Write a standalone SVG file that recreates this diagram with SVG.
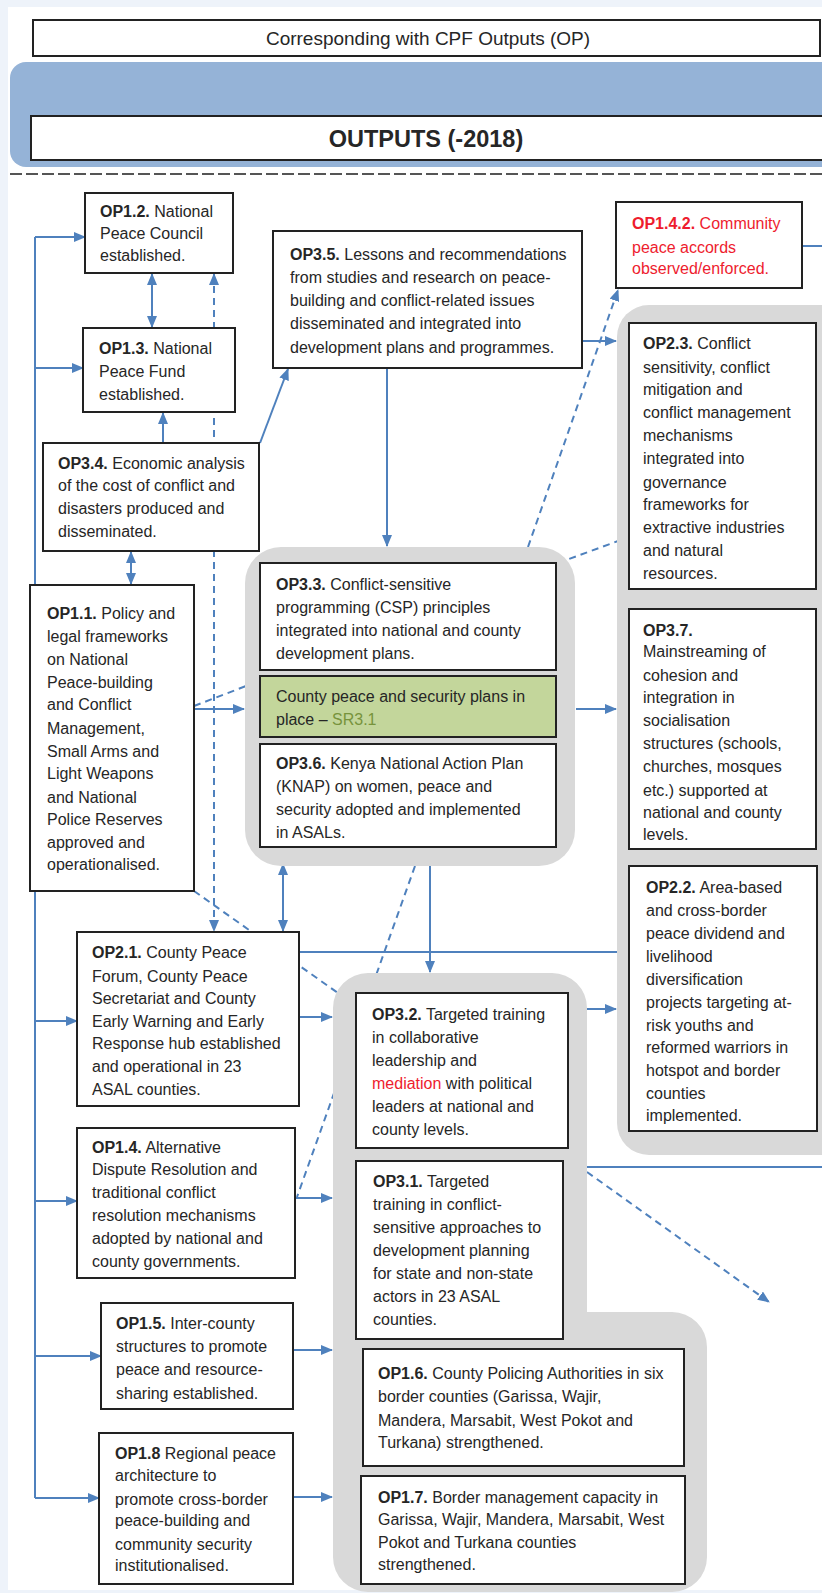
<svg xmlns="http://www.w3.org/2000/svg" width="822" height="1593" viewBox="0 0 822 1593">
<style>
.t{font-family:"Liberation Sans",Arial,sans-serif;font-size:16px;fill:#262626}
.b{font-weight:bold}
.red{fill:#ee1c2e}
.box{fill:#fff;stroke:#222;stroke-width:2}
.grp{fill:#d9d9d9}
.c{fill:none;stroke:#4f81bd;stroke-width:2}
.d{fill:none;stroke:#4f81bd;stroke-width:2;stroke-dasharray:7 5}
</style>
<defs>
<marker id="ah" markerUnits="userSpaceOnUse" markerWidth="12" markerHeight="10" viewBox="0 0 12 10" refX="11" refY="5" orient="auto-start-reverse">
<path d="M0,0 L12,5 L0,10 Z" fill="#4f81bd"/>
</marker>
</defs>
<rect x="0" y="0" width="822" height="1593" fill="#eef3fa"/>
<rect x="8" y="7" width="814" height="1583" fill="#fff"/>

<g id="header">
<rect x="33" y="20" width="787" height="36" fill="#fff" stroke="#222" stroke-width="2"/>
<text class="t" x="428" y="45" text-anchor="middle" style="font-size:19px">Corresponding with CPF Outputs (OP)</text>
<rect x="10" y="62" width="830" height="105" rx="16" fill="#95b3d7"/>
<rect x="31" y="116" width="800" height="44" fill="#fff" stroke="#222" stroke-width="2"/>
<text class="t b" x="426" y="147" text-anchor="middle" style="font-size:23.5px">OUTPUTS (-2018)</text>
<line x1="10" y1="174" x2="822" y2="174" stroke="#555" stroke-width="2" stroke-dasharray="12 4"/>
</g>

<g id="connectors">
<polyline class="c" points="35,237 35,1498"/>
<line class="c" x1="35" y1="237" x2="85" y2="237" marker-end="url(#ah)"/>
<line class="c" x1="35" y1="368" x2="83" y2="368" marker-end="url(#ah)"/>
<line class="c" x1="35" y1="1021" x2="77" y2="1021" marker-end="url(#ah)"/>
<line class="c" x1="35" y1="1201" x2="77" y2="1201" marker-end="url(#ah)"/>
<line class="c" x1="35" y1="1356" x2="101" y2="1356" marker-end="url(#ah)"/>
<line class="c" x1="35" y1="1498" x2="99" y2="1498" marker-end="url(#ah)"/>
<line class="c" x1="152" y1="274" x2="152" y2="327" marker-start="url(#ah)" marker-end="url(#ah)"/>
<line class="d" x1="214" y1="274" x2="214" y2="931" marker-start="url(#ah)" marker-end="url(#ah)"/>
<line class="c" x1="163" y1="443" x2="163" y2="413" marker-end="url(#ah)"/>
<line class="c" x1="260" y1="443" x2="288" y2="369" marker-end="url(#ah)"/>
<line class="c" x1="131" y1="552" x2="131" y2="584" marker-start="url(#ah)" marker-end="url(#ah)"/>
<line class="c" x1="387" y1="368" x2="387" y2="546" marker-end="url(#ah)"/>
<line class="c" x1="582" y1="341" x2="616" y2="341" marker-end="url(#ah)"/>
<line class="d" x1="528" y1="547" x2="618" y2="290" marker-end="url(#ah)"/>
<line class="d" x1="558" y1="563" x2="618" y2="541"/>
<line class="c" x1="802" y1="246" x2="822" y2="246"/>
<line class="c" x1="194" y1="709" x2="244" y2="709" marker-end="url(#ah)"/>
<line class="d" x1="194" y1="706" x2="246" y2="686"/>
<line class="c" x1="576" y1="709" x2="616" y2="709" marker-end="url(#ah)"/>
<line class="d" x1="194" y1="891" x2="345" y2="998"/>
<line class="c" x1="283" y1="864" x2="283" y2="931" marker-start="url(#ah)" marker-end="url(#ah)"/>
<line class="d" x1="415" y1="866" x2="297" y2="1197"/>
<line class="c" x1="430" y1="866" x2="430" y2="972" marker-end="url(#ah)"/>
<line class="c" x1="299" y1="952" x2="618" y2="952"/>
<line class="c" x1="299" y1="1017" x2="332" y2="1017" marker-end="url(#ah)"/>
<line class="c" x1="586" y1="1009" x2="616" y2="1009" marker-end="url(#ah)"/>
<line class="c" x1="295" y1="1198" x2="332" y2="1198" marker-end="url(#ah)"/>
<line class="c" x1="586" y1="1167" x2="822" y2="1167"/>
<line class="d" x1="587" y1="1172" x2="769" y2="1302" marker-end="url(#ah)"/>
<line class="c" x1="293" y1="1350" x2="332" y2="1350" marker-end="url(#ah)"/>
<line class="c" x1="293" y1="1497" x2="332" y2="1497" marker-end="url(#ah)"/>
</g>

<g id="group-centre">
<rect class="grp" x="245" y="547" width="330" height="319" rx="36"/>
</g>
<g id="group-right">
<rect class="grp" x="617" y="305" width="240" height="850" rx="32"/>
</g>
<g id="group-lower">
<path class="grp" d="M368,973 H552 A35,35 0 0 1 587,1008 V1312 H672 A35,35 0 0 1 707,1347 V1557 A35,35 0 0 1 672,1592 H368 A35,35 0 0 1 333,1557 V1008 A35,35 0 0 1 368,973 Z"/>
</g>

<g id="OP1.2">
<rect class="box" x="85" y="193" width="148" height="80"/>
<text class="t" x="100" y="217"><tspan class="b">OP1.2.</tspan> National</text>
<text class="t" x="100" y="239">Peace Council</text>
<text class="t" x="100" y="261">established.</text>
</g>
<g id="OP1.3">
<rect class="box" x="83" y="328" width="152" height="84"/>
<text class="t" x="99" y="354"><tspan class="b">OP1.3.</tspan> National</text>
<text class="t" x="99" y="377">Peace Fund</text>
<text class="t" x="99" y="400">established.</text>
</g>
<g id="OP3.4">
<rect class="box" x="43" y="443" width="216" height="108"/>
<text class="t" x="58" y="469"><tspan class="b">OP3.4.</tspan> Economic analysis</text>
<text class="t" x="58" y="491">of the cost of conflict and</text>
<text class="t" x="58" y="514">disasters produced and</text>
<text class="t" x="58" y="537">disseminated.</text>
</g>
<g id="OP3.5">
<rect class="box" x="273" y="231" width="309" height="137"/>
<text class="t" x="290" y="260"><tspan class="b">OP3.5.</tspan> Lessons and recommendations</text>
<text class="t" x="290" y="283">from studies and research on peace-</text>
<text class="t" x="290" y="306">building and conflict-related issues</text>
<text class="t" x="290" y="329">disseminated and integrated into</text>
<text class="t" x="290" y="353">development plans and programmes.</text>
</g>
<g id="OP1.4.2">
<rect class="box" x="616" y="202" width="186" height="86"/>
<text class="t red" x="632" y="229"><tspan class="b">OP1.4.2.</tspan> Community</text>
<text class="t red" x="632" y="253">peace accords</text>
<text class="t red" x="632" y="274">observed/enforced.</text>
</g>
<g id="OP2.3">
<rect class="box" x="629" y="323" width="187" height="266"/>
<text class="t" x="643" y="349"><tspan class="b">OP2.3.</tspan> Conflict</text>
<text class="t" x="643" y="373">sensitivity, conflict</text>
<text class="t" x="643" y="395">mitigation and</text>
<text class="t" x="643" y="418">conflict management</text>
<text class="t" x="643" y="441">mechanisms</text>
<text class="t" x="643" y="464">integrated into</text>
<text class="t" x="643" y="488">governance</text>
<text class="t" x="643" y="510">frameworks for</text>
<text class="t" x="643" y="533">extractive industries</text>
<text class="t" x="643" y="556">and natural</text>
<text class="t" x="643" y="579">resources.</text>
</g>
<g id="OP1.1">
<rect class="box" x="30" y="585" width="164" height="306"/>
<text class="t" x="47" y="619"><tspan class="b">OP1.1.</tspan> Policy and</text>
<text class="t" x="47" y="642">legal frameworks</text>
<text class="t" x="47" y="665">on National</text>
<text class="t" x="47" y="688">Peace-building</text>
<text class="t" x="47" y="710">and Conflict</text>
<text class="t" x="47" y="734">Management,</text>
<text class="t" x="47" y="757">Small Arms and</text>
<text class="t" x="47" y="779">Light Weapons</text>
<text class="t" x="47" y="803">and National</text>
<text class="t" x="47" y="825">Police Reserves</text>
<text class="t" x="47" y="848">approved and</text>
<text class="t" x="47" y="870">operationalised.</text>
</g>
<g id="OP3.3">
<rect class="box" x="260" y="563" width="296" height="107"/>
<text class="t" x="276" y="590"><tspan class="b">OP3.3.</tspan> Conflict-sensitive</text>
<text class="t" x="276" y="613">programming (CSP) principles</text>
<text class="t" x="276" y="636">integrated into national and county</text>
<text class="t" x="276" y="659">development plans.</text>
</g>
<g id="SR3.1">
<rect x="260" y="676" width="296" height="61" fill="#c3d69b" stroke="#222" stroke-width="2"/>
<text class="t" x="276" y="702">County peace and security plans in</text>
<text class="t" x="276" y="725">place – <tspan style="fill:#77933c">SR3.1</tspan></text>
</g>
<g id="OP3.6">
<rect class="box" x="260" y="744" width="296" height="103"/>
<text class="t" x="276" y="769"><tspan class="b">OP3.6.</tspan> Kenya National Action Plan</text>
<text class="t" x="276" y="792">(KNAP) on women, peace and</text>
<text class="t" x="276" y="815">security adopted and implemented</text>
<text class="t" x="276" y="838">in ASALs.</text>
</g>
<g id="OP3.7">
<rect class="box" x="629" y="609" width="187" height="240"/>
<text class="t" x="643" y="636"><tspan class="b">OP3.7.</tspan></text>
<text class="t" x="643" y="657">Mainstreaming of</text>
<text class="t" x="643" y="681">cohesion and</text>
<text class="t" x="643" y="703">integration in</text>
<text class="t" x="643" y="726">socialisation</text>
<text class="t" x="643" y="749">structures (schools,</text>
<text class="t" x="643" y="772">churches, mosques</text>
<text class="t" x="643" y="796">etc.) supported at</text>
<text class="t" x="643" y="818">national and county</text>
<text class="t" x="643" y="840">levels.</text>
</g>
<g id="OP2.2">
<rect class="box" x="629" y="866" width="188" height="265"/>
<text class="t" x="646" y="893"><tspan class="b">OP2.2.</tspan> Area-based</text>
<text class="t" x="646" y="916">and cross-border</text>
<text class="t" x="646" y="939">peace dividend and</text>
<text class="t" x="646" y="962">livelihood</text>
<text class="t" x="646" y="985">diversification</text>
<text class="t" x="646" y="1008">projects targeting at-</text>
<text class="t" x="646" y="1031">risk youths and</text>
<text class="t" x="646" y="1053">reformed warriors in</text>
<text class="t" x="646" y="1076">hotspot and border</text>
<text class="t" x="646" y="1099">counties</text>
<text class="t" x="646" y="1121">implemented.</text>
</g>
<g id="OP2.1">
<rect class="box" x="77" y="932" width="222" height="174"/>
<text class="t" x="92" y="958"><tspan class="b">OP2.1.</tspan> County Peace</text>
<text class="t" x="92" y="982">Forum, County Peace</text>
<text class="t" x="92" y="1004">Secretariat and County</text>
<text class="t" x="92" y="1027">Early Warning and Early</text>
<text class="t" x="92" y="1049">Response hub established</text>
<text class="t" x="92" y="1072">and operational in 23</text>
<text class="t" x="92" y="1095">ASAL counties.</text>
</g>
<g id="OP1.4">
<rect class="box" x="77" y="1128" width="218" height="150"/>
<text class="t" x="92" y="1153"><tspan class="b">OP1.4.</tspan> Alternative</text>
<text class="t" x="92" y="1175">Dispute Resolution and</text>
<text class="t" x="92" y="1198">traditional conflict</text>
<text class="t" x="92" y="1221">resolution mechanisms</text>
<text class="t" x="92" y="1244">adopted by national and</text>
<text class="t" x="92" y="1267">county governments.</text>
</g>
<g id="OP3.2">
<rect class="box" x="356" y="993" width="212" height="155"/>
<text class="t" x="372" y="1020"><tspan class="b">OP3.2.</tspan> Targeted training</text>
<text class="t" x="372" y="1043">in collaborative</text>
<text class="t" x="372" y="1066">leadership and</text>
<text class="t" x="372" y="1089"><tspan class="red">mediation</tspan> with political</text>
<text class="t" x="372" y="1112">leaders at national and</text>
<text class="t" x="372" y="1135">county levels.</text>
</g>
<g id="OP3.1">
<rect class="box" x="356" y="1161" width="207" height="178"/>
<text class="t" x="373" y="1187"><tspan class="b">OP3.1.</tspan> Targeted</text>
<text class="t" x="373" y="1210">training in conflict-</text>
<text class="t" x="373" y="1233">sensitive approaches to</text>
<text class="t" x="373" y="1256">development planning</text>
<text class="t" x="373" y="1279">for state and non-state</text>
<text class="t" x="373" y="1302">actors in 23 ASAL</text>
<text class="t" x="373" y="1325">counties.</text>
</g>
<g id="OP1.5">
<rect class="box" x="101" y="1303" width="192" height="106"/>
<text class="t" x="116" y="1329"><tspan class="b">OP1.5.</tspan> Inter-county</text>
<text class="t" x="116" y="1352">structures to promote</text>
<text class="t" x="116" y="1375">peace and resource-</text>
<text class="t" x="116" y="1399">sharing established.</text>
</g>
<g id="OP1.8">
<rect class="box" x="99" y="1433" width="194" height="151"/>
<text class="t" x="115" y="1459"><tspan class="b">OP1.8</tspan> Regional peace</text>
<text class="t" x="115" y="1481">architecture to</text>
<text class="t" x="115" y="1505">promote cross-border</text>
<text class="t" x="115" y="1526">peace-building and</text>
<text class="t" x="115" y="1550">community security</text>
<text class="t" x="115" y="1571">institutionalised.</text>
</g>
<g id="OP1.6">
<rect class="box" x="363" y="1349" width="321" height="117"/>
<text class="t" x="378" y="1379"><tspan class="b">OP1.6.</tspan> County Policing Authorities in six</text>
<text class="t" x="378" y="1402">border counties (Garissa, Wajir,</text>
<text class="t" x="378" y="1426">Mandera, Marsabit, West Pokot and</text>
<text class="t" x="378" y="1448">Turkana) strengthened.</text>
</g>
<g id="OP1.7">
<rect class="box" x="361" y="1476" width="324" height="108"/>
<text class="t" x="378" y="1503"><tspan class="b">OP1.7.</tspan> Border management capacity in</text>
<text class="t" x="378" y="1525">Garissa, Wajir, Mandera, Marsabit, West</text>
<text class="t" x="378" y="1548">Pokot and Turkana counties</text>
<text class="t" x="378" y="1570">strengthened.</text>
</g>
</svg>
